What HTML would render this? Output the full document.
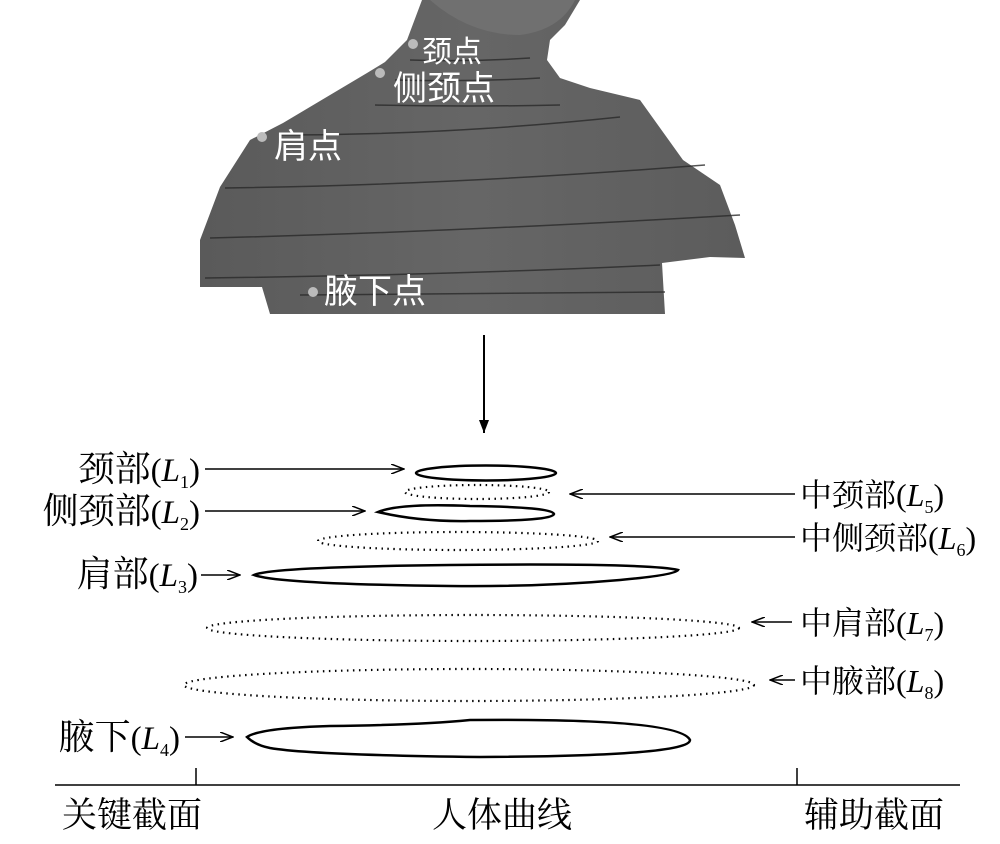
<!DOCTYPE html>
<html><head><meta charset="utf-8"><style>
body{margin:0;background:#fff}
svg{display:block}
text{font-family:"Liberation Serif","Noto Serif CJK SC",serif}
.lb{font-size:32px;fill:#000}
.ll{font-size:33px;fill:#000}
.bt{font-size:35px;fill:#000}
.wt{font-family:"Liberation Sans","Noto Sans CJK SC",sans-serif;font-size:34px;fill:#fff}
</style></head><body>
<svg width="1000" height="844" viewBox="0 0 1000 844" xmlns="http://www.w3.org/2000/svg">
<defs>
<marker id="ah" markerWidth="14" markerHeight="10" refX="13" refY="5" orient="auto" markerUnits="userSpaceOnUse">
<path d="M0,0 L13,5 L0,10" fill="none" stroke="#000" stroke-width="1.5"/></marker>
<marker id="af" markerWidth="14" markerHeight="10" refX="13" refY="5" orient="auto" markerUnits="userSpaceOnUse">
<path d="M0,0 L13,5 L0,10Z" fill="#000"/></marker>
<linearGradient id="g" x1="0" y1="0" x2="1" y2="0">
<stop offset="0" stop-color="#5a5a5a"/><stop offset="0.5" stop-color="#666"/><stop offset="1" stop-color="#5c5c5c"/></linearGradient>
</defs>
<path d="M422,0 L407,40 L385,62 L367,73 L283,123 L250,140 L220,187 L200,240 L200,287 L262,287 L270,314 L665,314 L662,263 L710,257 L745,258 L735,225 L720,185 L683,160 L640,100 L590,88 L560,78 L547,60 L550,40 L565,25 L580,0 Z" fill="url(#g)"/>
<path d="M430,0 Q470,35 520,35 Q560,30 575,0Z" fill="#707070"/>
<g stroke="#2a2a2a" stroke-width="1.5" fill="none" opacity="0.8">
<path d="M410,60 Q470,62 530,58"/>
<path d="M395,80 Q470,82 540,78"/>
<path d="M375,105 Q470,107 560,105"/>
<path d="M280,135 Q450,135 620,117"/>
<path d="M225,188 Q450,185 705,165"/>
<path d="M210,238 Q450,232 740,215"/>
<path d="M205,278 Q450,275 660,265"/>
<path d="M300,295 Q450,293 665,292"/>
</g>
<g fill="#bbb"><circle cx="413" cy="44" r="5"/><circle cx="380" cy="73" r="5"/><circle cx="262" cy="137" r="5"/><circle cx="313" cy="292" r="5"/></g>
<text class="wt" x="422" y="62" style="font-size:30px">颈点</text>
<text class="wt" x="393" y="100">侧颈点</text>
<text class="wt" x="274" y="158">肩点</text>
<text class="wt" x="324" y="303">腋下点</text>
<line x1="484" y1="335" x2="484" y2="433" stroke="#000" stroke-width="2" marker-end="url(#af)"/>
<g fill="none" stroke="#000" stroke-width="2.5">
<ellipse cx="486" cy="473" rx="70" ry="7.5"/>
<path d="M378,512 Q400,503 470,506 Q552,507 554,514 Q552,521 470,521 Q420,522 378,512Z"/>
<path d="M254,575 Q270,567 450,565 Q650,563 678,570 Q675,575 620,580 Q540,587 450,586 Q280,584 254,575Z"/>
<path d="M247,737 Q260,728 330,726 Q420,725 470,720 Q680,718 690,740 Q690,756 480,757 Q310,755 270,748 Q255,745 247,737Z"/>
</g>
<g fill="none" stroke="#000" stroke-width="2.2" stroke-dasharray="1.5 4.5">
<ellipse cx="477" cy="492" rx="72" ry="7"/>
<ellipse cx="458" cy="541" rx="140" ry="9"/>
<ellipse cx="473" cy="628" rx="266" ry="13"/>
<ellipse cx="469" cy="685" rx="285" ry="16"/>
</g>
<g stroke="#000" stroke-width="1.6" marker-end="url(#ah)">
<line x1="205" y1="469" x2="404" y2="469"/>
<line x1="205" y1="511" x2="365" y2="511"/>
<line x1="201" y1="575" x2="240" y2="575"/>
<line x1="185" y1="737" x2="233" y2="737"/>
<line x1="795" y1="494" x2="570" y2="494"/>
<line x1="795" y1="537" x2="610" y2="537"/>
<line x1="792" y1="622" x2="752" y2="622"/>
<line x1="795" y1="680" x2="770" y2="680"/>
</g>
<text class="ll" x="200" y="481" text-anchor="end"><tspan font-size="36">颈部</tspan>(<tspan font-style="italic">L</tspan><tspan font-size="18" dy="7">1</tspan><tspan dy="-7">)</tspan></text>
<text class="ll" x="200" y="523" text-anchor="end"><tspan font-size="36">侧颈部</tspan>(<tspan font-style="italic">L</tspan><tspan font-size="18" dy="7">2</tspan><tspan dy="-7">)</tspan></text>
<text class="ll" x="198" y="586" text-anchor="end"><tspan font-size="36">肩部</tspan>(<tspan font-style="italic">L</tspan><tspan font-size="18" dy="7">3</tspan><tspan dy="-7">)</tspan></text>
<text class="ll" x="180" y="749" text-anchor="end"><tspan font-size="36">腋下</tspan>(<tspan font-style="italic">L</tspan><tspan font-size="18" dy="7">4</tspan><tspan dy="-7">)</tspan></text>
<text class="lb" x="800" y="506">中颈部(<tspan font-style="italic">L</tspan><tspan font-size="18" dy="7">5</tspan><tspan dy="-7">)</tspan></text>
<text class="lb" x="800" y="549">中侧颈部(<tspan font-style="italic">L</tspan><tspan font-size="18" dy="7">6</tspan><tspan dy="-7">)</tspan></text>
<text class="lb" x="800" y="634">中肩部(<tspan font-style="italic">L</tspan><tspan font-size="18" dy="7">7</tspan><tspan dy="-7">)</tspan></text>
<text class="lb" x="800" y="692">中腋部(<tspan font-style="italic">L</tspan><tspan font-size="18" dy="7">8</tspan><tspan dy="-7">)</tspan></text>
<g stroke="#000" stroke-width="1.5">
<line x1="55" y1="785" x2="960" y2="785"/>
<line x1="196" y1="768" x2="196" y2="785"/>
<line x1="797" y1="768" x2="797" y2="785"/>
</g>
<text class="bt" x="62" y="827">关键截面</text>
<text class="bt" x="432" y="827">人体曲线</text>
<text class="bt" x="804" y="827">辅助截面</text>
</svg>
</body></html>
